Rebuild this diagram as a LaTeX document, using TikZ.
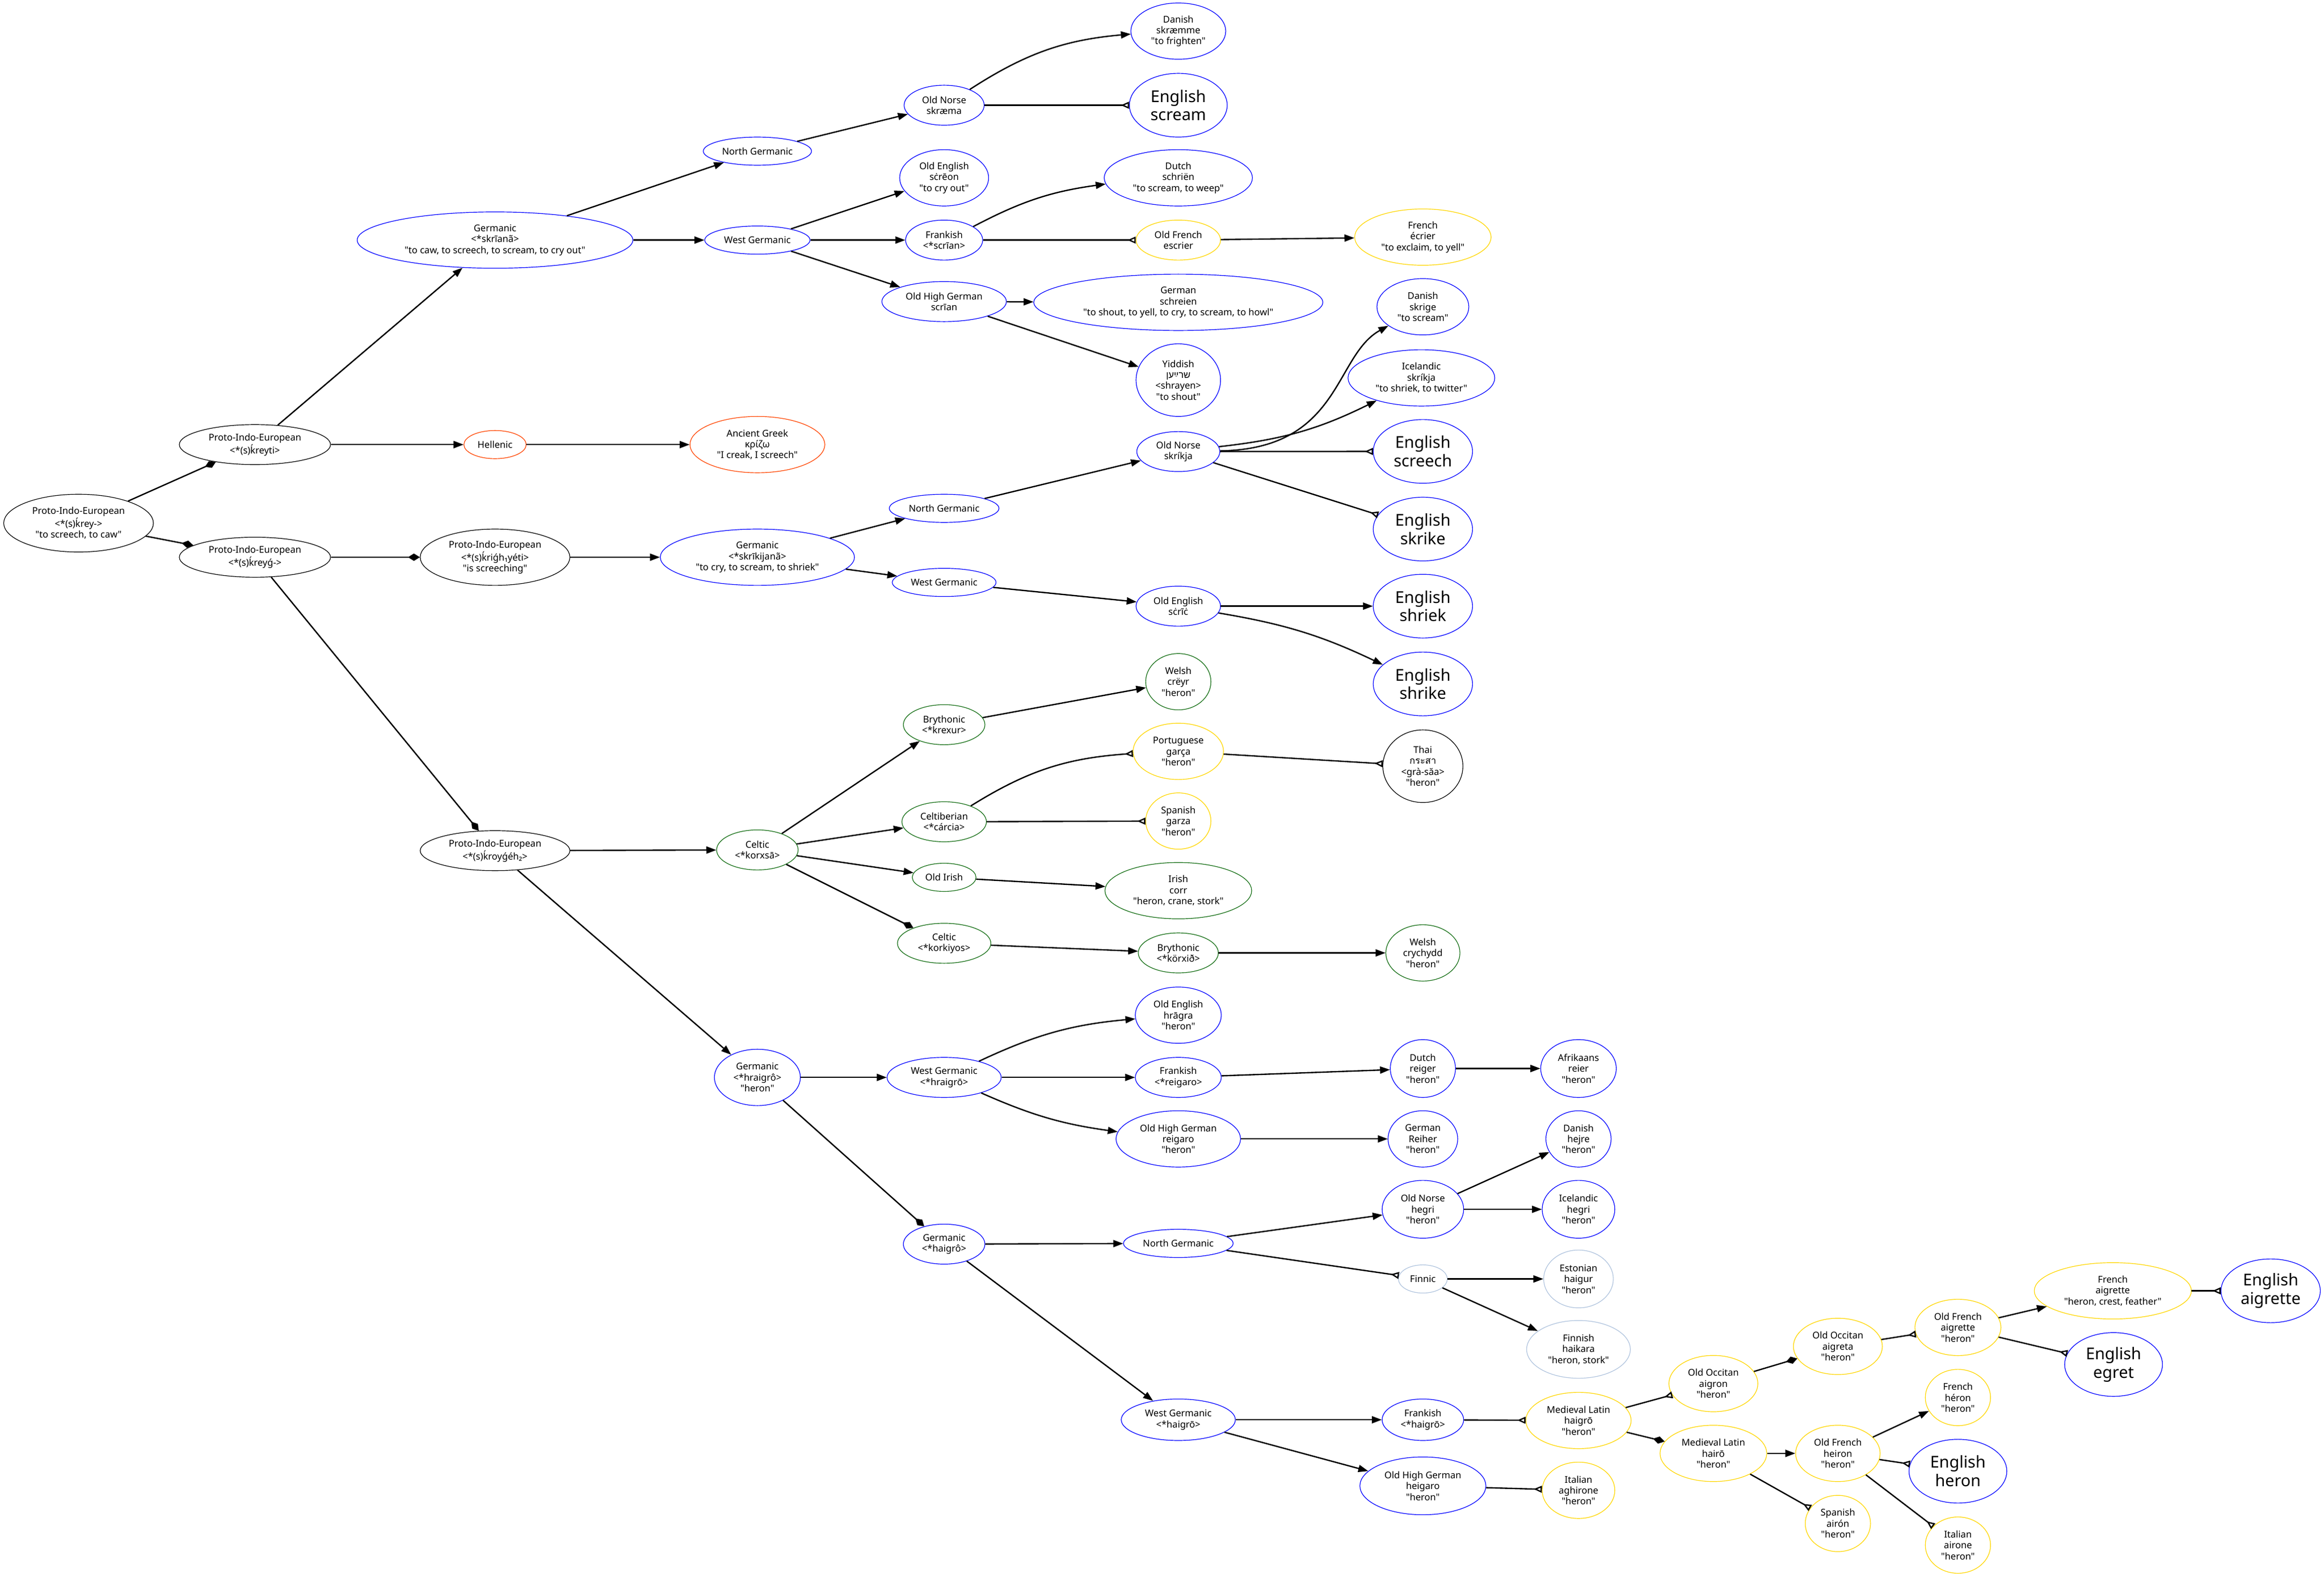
\documentclass[tikz,border=0pt]{standalone}
\usepackage{fontspec}
\setmainfont{Noto Sans}[Ligatures=TeXOff]
\newfontfamily\hebfont[Script=Hebrew]{Liberation Sans}
\newfontfamily\thaifont[Script=Thai]{Loma}
\TeXXeTstate=1
\usetikzlibrary{shapes.geometric,arrows.meta}
\definecolor{cb}{RGB}{0,0,255}
\definecolor{cy}{RGB}{255,215,0}
\definecolor{cgr}{RGB}{20,110,20}
\definecolor{co}{RGB}{255,69,0}
\definecolor{cl}{RGB}{176,196,222}
\newcommand\smallfnt{\fontsize{6.3}{7.4}\selectfont}
\newcommand\bigfnt{\fontsize{11}{12.4}\selectfont}
\tikzset{
  lang/.style={ellipse, draw, line width=0.45pt, inner sep=0pt, align=center, font=\smallfnt},
  pk/.style={lang, draw=black},
  bl/.style={lang, draw=cb},
  yl/.style={lang, draw=cy},
  gr/.style={lang, draw=cgr},
  rd/.style={lang, draw=co},
  lt/.style={lang, draw=cl},
  en/.style={lang, draw=cb, font=\bigfnt},
  edge/.style={draw, line width=0.9pt},
  arr/.style={edge, -{Triangle[length=6.7pt,width=4.8pt]}},
  dia/.style={edge, -{Diamond[length=8pt,width=5pt]}},
  oinv/.style={edge, -{Triangle[open,reversed,length=5.5pt,width=4.6pt]}},
}
\begin{document}
\begin{tikzpicture}[x=1pt,y=1pt]
\useasboundingbox[fill=white] (0,0) rectangle (1568,-1064);
% column 0-1
\node[pk, minimum width=101pt, minimum height=39pt] (pie0) at (53,-353) {Proto-Indo-European\\<*(s)ḱrey->\\"to screech, to caw"};
\node[pk, minimum width=102pt, minimum height=27pt] (pie1) at (172,-300) {Proto-Indo-European\\<*(s)ḱreyti>};
\node[pk, minimum width=102pt, minimum height=27pt] (pie2) at (172,-376) {Proto-Indo-European\\<*(s)ḱreyǵ->};
% column 2
\node[bl, minimum width=186pt, minimum height=38pt] (gem1) at (334,-162) {Germanic\\<*skrīanã>\\"to caw, to screech, to scream, to cry out"};
\node[rd, minimum width=42pt, minimum height=19pt] (hel) at (334,-300) {Hellenic};
\node[pk, minimum width=101pt, minimum height=38pt] (pie3) at (334,-376) {Proto-Indo-European\\<*(s)ḱriǵh₁yéti>\\"is screeching"};
\node[pk, minimum width=101pt, minimum height=27pt] (pie4) at (334,-574) {Proto-Indo-European\\<*(s)ḱroyǵéh₂>};
% column 3
\node[bl, minimum width=73pt, minimum height=19pt] (ng1) at (511,-102) {North Germanic};
\node[bl, minimum width=71pt, minimum height=19pt] (wg1) at (511,-162) {West Germanic};
\node[rd, minimum width=91pt, minimum height=38pt] (grc) at (511,-300) {Ancient Greek\\κρίζω\\"I creak, I screech"};
\node[bl, minimum width=131pt, minimum height=38pt] (gem2) at (511,-376) {Germanic\\<*skrīkijanã>\\"to cry, to scream, to shriek"};
\node[gr, minimum width=55pt, minimum height=27pt] (cel1) at (511,-573.5) {Celtic\\<*korxsā>};
\node[bl, minimum width=58pt, minimum height=38pt] (gem3) at (511,-727) {Germanic\\<*hraigrô>\\"heron"};
% column 4
\node[bl, minimum width=54pt, minimum height=27pt] (on1) at (637,-71) {Old Norse\\skræma};
\node[bl, minimum width=60pt, minimum height=38pt] (oe1) at (637,-120) {Old English\\sċrēon\\"to cry out"};
\node[bl, minimum width=52pt, minimum height=27pt] (frk1) at (637,-162) {Frankish\\<*scrīan>};
\node[bl, minimum width=84pt, minimum height=27pt] (ohg1) at (637,-203.5) {Old High German\\scrīan};
\node[bl, minimum width=74pt, minimum height=19pt] (ng2) at (637,-343) {North Germanic};
\node[bl, minimum width=70pt, minimum height=19pt] (wg2) at (637,-393) {West Germanic};
\node[gr, minimum width=55pt, minimum height=27pt] (bry1) at (637,-489) {Brythonic\\<*krexur>};
\node[gr, minimum width=57pt, minimum height=27pt] (cib) at (637,-554.5) {Celtiberian\\<*cárcia>};
\node[gr, minimum width=43pt, minimum height=19pt] (oir) at (637,-592) {Old Irish};
\node[gr, minimum width=63pt, minimum height=27pt] (cel2) at (637,-636.5) {Celtic\\<*korkiyos>};
\node[bl, minimum width=77pt, minimum height=27pt] (wg3) at (637,-727) {West Germanic\\<*hraigrō>};
\node[bl, minimum width=55pt, minimum height=27pt] (gem4) at (637,-839.5) {Germanic\\<*haigrô>};
% column 5
\node[bl, minimum width=64pt, minimum height=38pt] (da1) at (795,-21) {Danish\\skræmme\\"to frighten"};
\node[en, minimum width=66pt, minimum height=43pt] (enscream) at (795,-71) {English\\scream};
\node[bl, minimum width=100pt, minimum height=38pt] (du1) at (795,-120) {Dutch\\schriën\\"to scream, to weep"};
\node[yl, minimum width=57pt, minimum height=27pt] (ofr1) at (795,-162) {Old French\\escrier};
\node[bl, minimum width=195pt, minimum height=38pt] (de1) at (795,-204) {German\\schreien\\"to shout, to yell, to cry, to scream, to howl"};
\node[bl, minimum width=57pt, minimum height=49pt] (yi) at (795,-256.5) {Yiddish\\{\hebfont\beginR שרײַען\endR}\\<shrayen>\\"to shout"};
\node[bl, minimum width=56pt, minimum height=27pt] (on2) at (795,-304.7) {Old Norse\\skríkja};
\node[bl, minimum width=57pt, minimum height=27pt] (oe2) at (795,-409) {Old English\\sċrīċ};
\node[gr, minimum width=44pt, minimum height=38pt] (cy1) at (795,-460) {Welsh\\crëyr\\"heron"};
\node[yl, minimum width=61pt, minimum height=38pt] (pt) at (795,-507) {Portuguese\\garça\\"heron"};
\node[yl, minimum width=44pt, minimum height=38pt] (es1) at (795,-554) {Spanish\\garza\\"heron"};
\node[gr, minimum width=99pt, minimum height=38pt] (ga) at (795,-601) {Irish\\corr\\"heron, crane, stork"};
\node[gr, minimum width=54pt, minimum height=27pt] (bry2) at (795,-643) {Brythonic\\<*körxið>};
\node[bl, minimum width=58pt, minimum height=38pt] (oe3) at (795,-685) {Old English\\hrāgra\\"heron"};
\node[bl, minimum width=58pt, minimum height=27pt] (frk2) at (795,-727) {Frankish\\<*reigaro>};
\node[bl, minimum width=84pt, minimum height=38pt] (ohg2) at (795,-768.5) {Old High German\\reigaro\\"heron"};
\node[bl, minimum width=74pt, minimum height=19pt] (ng3) at (795,-839) {North Germanic};
\node[bl, minimum width=77pt, minimum height=28pt] (wg4) at (795,-958) {West Germanic\\<*haigrō>};
% column 6
\node[yl, minimum width=92pt, minimum height=38pt] (fr1) at (960,-160) {French\\écrier\\"to exclaim, to yell"};
\node[bl, minimum width=62pt, minimum height=38pt] (da2) at (960,-207) {Danish\\skrige\\"to scream"};
\node[bl, minimum width=99pt, minimum height=38pt] (is1) at (959,-255) {Icelandic\\skríkja\\"to shriek, to twitter"};
\node[en, minimum width=67pt, minimum height=43pt] (enscreech) at (960,-304.6) {English\\screech};
\node[en, minimum width=67pt, minimum height=43pt] (enskrike) at (960,-357) {English\\skrike};
\node[en, minimum width=67pt, minimum height=43pt] (enshriek) at (960,-409) {English\\shriek};
\node[en, minimum width=67pt, minimum height=43pt] (enshrike) at (960,-461.5) {English\\shrike};
\node[pk, minimum width=54pt, minimum height=49pt] (th) at (960,-517) {Thai\\{\thaifont กระสา}\\<grà-săa>\\"heron"};
\node[gr, minimum width=50pt, minimum height=38pt] (cy2) at (960,-643) {Welsh\\crychydd\\"heron"};
\node[bl, minimum width=44pt, minimum height=39pt] (nl2) at (960,-721) {Dutch\\reiger\\"heron"};
\node[bl, minimum width=47pt, minimum height=38pt] (de2) at (960,-768.5) {German\\Reiher\\"heron"};
\node[bl, minimum width=55pt, minimum height=39pt] (on3) at (960,-816) {Old Norse\\hegri\\"heron"};
\node[lt, minimum width=33pt, minimum height=19pt] (fin) at (960,-863) {Finnic};
\node[bl, minimum width=55pt, minimum height=28pt] (frk3) at (960,-958) {Frankish\\<*haigrō>};
\node[bl, minimum width=85pt, minimum height=39pt] (ohg3) at (960,-1002.6) {Old High German\\heigaro\\"heron"};
% column 7
\node[bl, minimum width=51pt, minimum height=39pt] (af) at (1065,-721) {Afrikaans\\reier\\"heron"};
\node[bl, minimum width=44pt, minimum height=38pt] (da3) at (1065,-768.5) {Danish\\hejre\\"heron"};
\node[bl, minimum width=49pt, minimum height=39pt] (is2) at (1065,-816) {Icelandic\\hegri\\"heron"};
\node[lt, minimum width=47pt, minimum height=39pt] (et) at (1065,-863) {Estonian\\haigur\\"heron"};
\node[lt, minimum width=70pt, minimum height=39pt] (fi) at (1065,-910.5) {Finnish\\haikara\\"heron, stork"};
\node[yl, minimum width=71pt, minimum height=38pt] (ml1) at (1065,-958.5) {Medieval Latin\\haigrō\\"heron"};
\node[yl, minimum width=49pt, minimum height=38pt] (it1) at (1065,-1005.6) {Italian\\aghirone\\"heron"};
% column 8+
\node[yl, minimum width=60pt, minimum height=38pt] (oc1) at (1156,-933.6) {Old Occitan\\aigron\\"heron"};
\node[yl, minimum width=72pt, minimum height=38pt] (ml2) at (1156,-980.7) {Medieval Latin\\hairō\\"heron"};
\node[yl, minimum width=60pt, minimum height=38pt] (oc2) at (1240,-908.5) {Old Occitan\\aigreta\\"heron"};
\node[yl, minimum width=57pt, minimum height=38pt] (ofr2) at (1240,-980.7) {Old French\\heiron\\"heron"};
\node[yl, minimum width=44pt, minimum height=38pt] (es2) at (1240,-1028) {Spanish\\airón\\"heron"};
\node[yl, minimum width=58pt, minimum height=38pt] (ofr3) at (1321,-895.7) {Old French\\aigrette\\"heron"};
\node[yl, minimum width=44pt, minimum height=38pt] (fr2) at (1321,-943) {French\\héron\\"heron"};
\node[en, minimum width=66pt, minimum height=43pt] (enheron) at (1321,-992.7) {English\\heron};
\node[yl, minimum width=44pt, minimum height=38pt] (it2) at (1321,-1042.6) {Italian\\airone\\"heron"};
\node[yl, minimum width=106pt, minimum height=38pt] (fr3) at (1425.5,-871) {French\\aigrette\\"heron, crest, feather"};
\node[en, minimum width=66pt, minimum height=43pt] (enegret) at (1426,-920.7) {English\\egret};
\node[en, minimum width=67pt, minimum height=43pt] (enaigrette) at (1532,-871) {English\\aigrette};
% edges
\draw[dia] (pie0) -- (pie1);
\draw[dia] (pie0) -- (pie2);
\draw[arr] (pie1) -- (gem1);
\draw[arr] (pie1) -- (hel);
\draw[arr] (hel) -- (grc);
\draw[dia] (pie2) -- (pie3);
\draw[arr] (pie3) -- (gem2);
\draw[dia] (pie2) -- (pie4);
\draw[arr] (pie4) -- (cel1);
\draw[arr] (pie4) -- (gem3);
\draw[arr] (gem1) -- (ng1);
\draw[arr] (gem1) -- (wg1);
\draw[arr] (ng1) -- (on1);
\draw[arr] (on1) to[bend left=14] (da1);
\draw[oinv] (on1) -- (enscream);
\draw[arr] (wg1) -- (oe1);
\draw[arr] (wg1) -- (frk1);
\draw[arr] (wg1) -- (ohg1);
\draw[arr] (frk1) to[bend left=10] (du1);
\draw[oinv] (frk1) -- (ofr1);
\draw[arr] (ofr1) -- (fr1);
\draw[arr] (ohg1) -- (de1);
\draw[arr] (ohg1) -- (yi);
\draw[arr] (gem2) -- (ng2);
\draw[arr] (gem2) -- (wg2);
\draw[arr] (ng2) -- (on2);
\draw[arr] (on2) .. controls (905,-303) and (900,-240) .. (da2);
\draw[arr] (on2) to[bend right=10] (is1);
\draw[oinv] (on2) -- (enscreech);
\draw[oinv] (on2) -- (enskrike);
\draw[arr] (wg2) -- (oe2);
\draw[arr] (oe2) -- (enshriek);
\draw[arr] (oe2) to[bend left=8] (enshrike);
\draw[arr] (cel1) -- (bry1);
\draw[arr] (cel1) -- (cib);
\draw[arr] (cel1) -- (oir);
\draw[dia] (cel1) -- (cel2);
\draw[arr] (bry1) -- (cy1);
\draw[oinv] (cib) to[bend left=14] (pt);
\draw[oinv] (cib) -- (es1);
\draw[oinv] (pt) -- (th);
\draw[arr] (oir) -- (ga);
\draw[arr] (cel2) -- (bry2);
\draw[arr] (bry2) -- (cy2);
\draw[arr] (gem3) -- (wg3);
\draw[dia] (gem3) -- (gem4);
\draw[arr] (wg3) to[bend left=10] (oe3);
\draw[arr] (wg3) -- (frk2);
\draw[arr] (wg3) to[bend right=8] (ohg2);
\draw[arr] (frk2) -- (nl2);
\draw[arr] (nl2) -- (af);
\draw[arr] (ohg2) -- (de2);
\draw[arr] (gem4) -- (ng3);
\draw[arr] (gem4) -- (wg4);
\draw[arr] (ng3) -- (on3);
\draw[oinv] (ng3) -- (fin);
\draw[arr] (on3) -- (da3);
\draw[arr] (on3) -- (is2);
\draw[arr] (fin) -- (et);
\draw[arr] (fin) -- (fi);
\draw[arr] (wg4) -- (frk3);
\draw[arr] (wg4) -- (ohg3);
\draw[oinv] (frk3) -- (ml1);
\draw[oinv] (ohg3) -- (it1);
\draw[oinv] (ml1) -- (oc1);
\draw[dia] (ml1) -- (ml2);
\draw[dia] (oc1) -- (oc2);
\draw[oinv] (oc2) -- (ofr3);
\draw[arr] (ofr3) -- (fr3);
\draw[oinv] (ofr3) -- (enegret);
\draw[oinv] (fr3) -- (enaigrette);
\draw[arr] (ml2) -- (ofr2);
\draw[oinv] (ml2) -- (es2);
\draw[arr] (ofr2) -- (fr2);
\draw[oinv] (ofr2) -- (enheron);
\draw[oinv] (ofr2) -- (it2);
\end{tikzpicture}
\end{document}
